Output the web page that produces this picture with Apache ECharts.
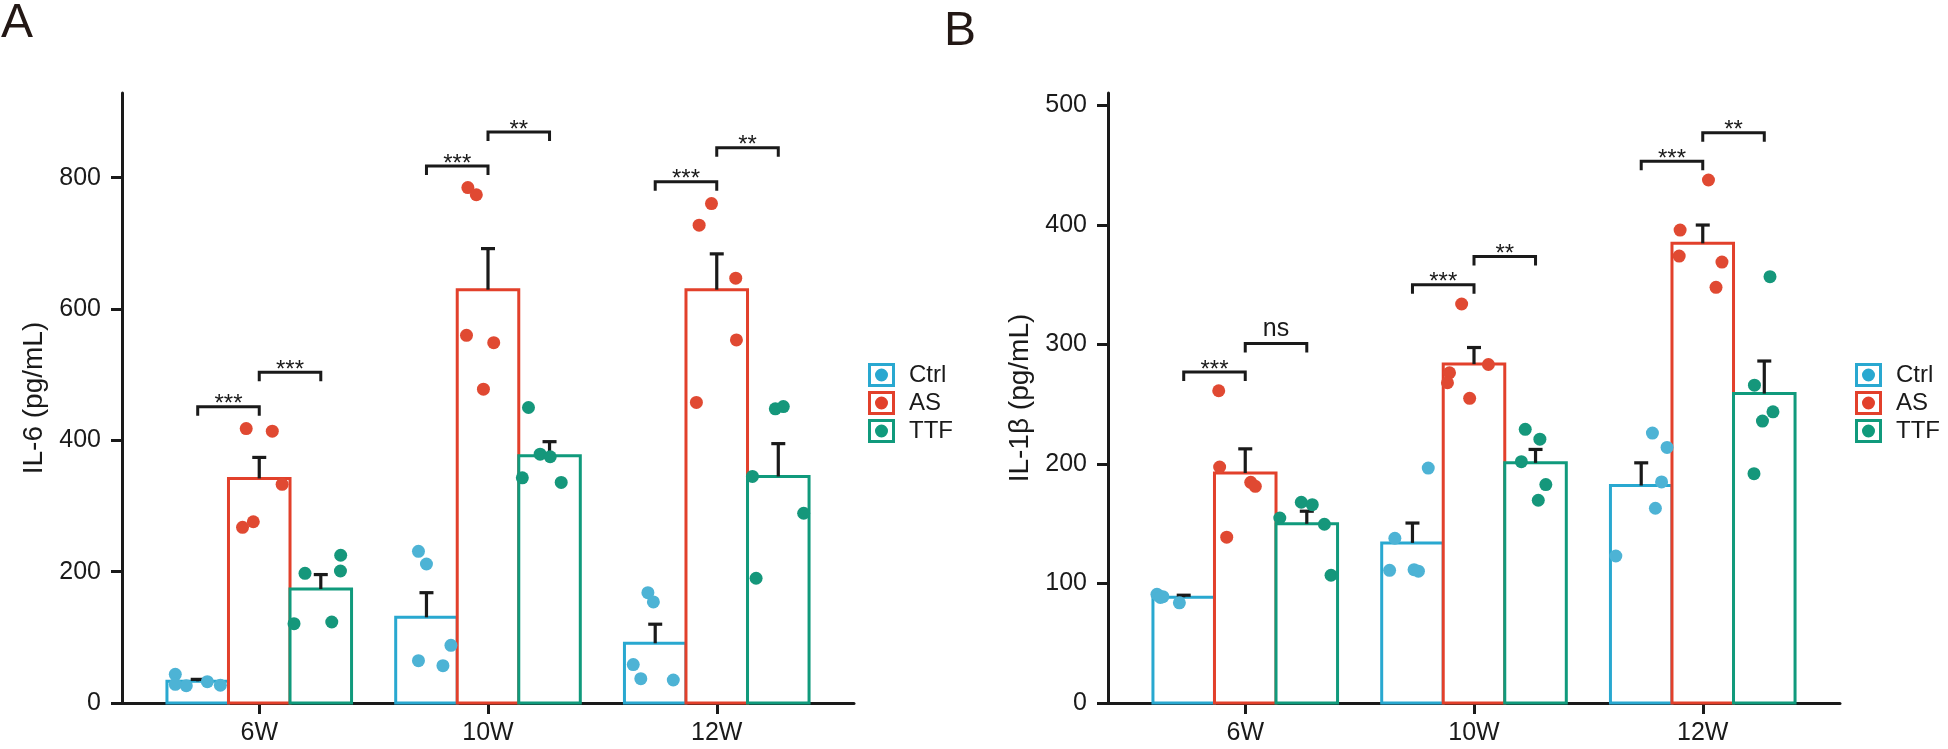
<!DOCTYPE html>
<html>
<head>
<meta charset="utf-8">
<script src="https://cdn.jsdelivr.net/npm/echarts@6/dist/echarts.min.js"></script>
<style>
html,body{margin:0;padding:0;background:#fff;}
#chart{width:1948px;height:749px;}
</style>
</head>
<body>
<div id="chart"></div>
<script>
// ---------- data ----------
const categories = ['6W', '10W', '12W'];
const groups = ['Ctrl', 'AS', 'TTF'];

// Panel A: IL-6 (pg/mL)
const il6Mean = { Ctrl: [33, 130.5, 91], AS: [342, 629.5, 629.5], TTF: [173.6, 376.7, 345] };
const il6Sem  = { Ctrl: [3, 37.5, 29],   AS: [32, 62.5, 54.5],     TTF: [22, 21.3, 50] };
const il6Points = {
  Ctrl: [[43.7, 28.5, 26.4, 32.5, 27], [231, 211.7, 64.5, 56.9, 87.8], [168, 154, 58.5, 37, 35]],
  AS:   [[418, 414, 333, 267.5, 276], [785, 774, 560, 548.7, 478], [760.6, 727.7, 647, 553, 457.8]],
  TTF:  [[225, 201, 197.5, 120.8, 123.4], [450, 379, 375, 343, 336], [448, 451.4, 345, 289, 190]]
};
const il6Sig = [['***', '***'], ['***', '**'], ['***', '**']];
const il6SigLevel = [[451, 503.6], [818, 869.6], [794, 845.6]];
const il6Ticks = [0, 200, 400, 600, 800];

// Panel B: IL-1β (pg/mL)
const il1bMean = { Ctrl: [88.5, 134, 182], AS: [192.5, 283.6, 384.7], TTF: [150, 201, 259] };
const il1bSem  = { Ctrl: [1.7, 16.6, 19],  AS: [20.2, 13.9, 15.3],    TTF: [10.5, 11.2, 27.2] };
const il1bPoints = {
  Ctrl: [[91, 90, 89, 88.3, 83.8], [196.6, 137.9, 111, 111.6, 110.3], [225.9, 213.9, 185, 163, 123]],
  AS:   [[261.3, 197.5, 184.7, 181.3, 138.8], [333.9, 283.3, 276.4, 268, 255], [437.7, 395.8, 374, 369, 347.9]],
  TTF:  [[168, 166, 154.8, 149.6, 106.9], [229, 220.8, 202, 182.8, 169.7], [356.8, 266, 243.7, 235.9, 191.9]]
};
const il1bSig = [['***', 'ns'], ['***', '**'], ['***', '**']];
const il1bSigLevel = [[277, 300.8], [350, 373.6], [453.3, 477.3]];
const il1bTicks = [0, 100, 200, 300, 400, 500];

// horizontal jitter of individual points within each group (axis units, relative to group centre)
const il6Jitter = {
  Ctrl: [[-0.367, -0.367, -0.319, -0.227, -0.170], [-0.304, -0.269, -0.304, -0.197, -0.162], [-0.301, -0.277, -0.365, -0.332, -0.190]],
  AS:   [[-0.057, 0.057, 0.100, -0.073, -0.026], [-0.088, -0.051, -0.094, 0.025, -0.020], [-0.023, -0.077, 0.083, 0.086, -0.089]],
  TTF:  [[0.356, 0.355, 0.200, 0.152, 0.317], [0.177, 0.228, 0.272, 0.150, 0.320], [0.256, 0.291, 0.156, 0.380, 0.172]]
};
const il1bJitter = {
  Ctrl: [[-0.386, -0.380, -0.360, -0.371, -0.288], [-0.200, -0.346, -0.369, -0.262, -0.243], [-0.220, -0.156, -0.180, -0.207, -0.380]],
  AS:   [[-0.116, -0.112, 0.024, 0.044, -0.081], [-0.054, 0.063, -0.107, -0.116, -0.019], [0.025, -0.099, -0.103, 0.084, 0.058]],
  TTF:  [[0.245, 0.293, 0.151, 0.346, 0.375], [0.224, 0.288, 0.207, 0.314, 0.281], [0.294, 0.226, 0.307, 0.261, 0.224]]
};

// ---------- styles ----------
const FONT = '"Liberation Sans", Arial, Helvetica, sans-serif';
const INK = '#1a1a1a';
const lineColor = { Ctrl: '#29A8D0', AS: '#E2402B', TTF: '#109A7C' };
const dotColor  = { Ctrl: '#4DB3D5', AS: '#E04932', TTF: '#15977B' };
const groupOffset = { Ctrl: -0.269, AS: 0, TTF: 0.269 };
const BAR_HALF = 0.1345;
const LEG = 9;

const legendIcon = 'path://M0,0 H27 V24 H0 Z M3,3 V21 H24 V3 Z M13.5,5.5 A6.5,6.5 0 1,1 13.5,18.5 A6.5,6.5 0 1,1 13.5,5.5 Z';

const chart = echarts.init(document.getElementById('chart'), null, { renderer: 'canvas' });

function barSeries(g, mean, gi) {
  return {
    name: g + ' bar', type: 'custom', xAxisIndex: gi, yAxisIndex: gi, z: 2,
    data: categories.map((c, i) => [i + 1, mean[g][i]]),
    renderItem: function (params, api) {
      const x = api.value(0) + groupOffset[g], v = api.value(1);
      const p0 = api.coord([x - BAR_HALF, v]);
      const p1 = api.coord([x + BAR_HALF, 0]);
      return {
        type: 'rect',
        shape: { x: p0[0], y: p0[1], width: p1[0] - p0[0], height: p1[1] - p0[1] },
        style: { fill: '#ffffff', stroke: lineColor[g], lineWidth: 3 }
      };
    }
  };
}

function errSeries(g, mean, sem, gi) {
  return {
    name: g + ' err', type: 'custom', xAxisIndex: gi, yAxisIndex: gi, z: 3,
    data: categories.map((c, i) => [i + 1, mean[g][i], sem[g][i]]),
    renderItem: function (params, api) {
      const x = api.value(0) + groupOffset[g], m = api.value(1), s = api.value(2);
      const b = api.coord([x, m]);
      const t = api.coord([x, m + s]);
      return {
        type: 'group',
        children: [
          { type: 'line', shape: { x1: b[0], y1: b[1], x2: t[0], y2: t[1] }, style: { stroke: INK, lineWidth: 3.2 } },
          { type: 'line', shape: { x1: t[0] - 7, y1: t[1], x2: t[0] + 7, y2: t[1] }, style: { stroke: INK, lineWidth: 3.2 } }
        ]
      };
    }
  };
}

function pointSeries(g, pts, jit, gi) {
  const data = [];
  pts[g].forEach((vals, i) => vals.forEach((v, j) => data.push([i + 1 + jit[g][i][j], v])));
  return {
    name: g, type: 'scatter', xAxisIndex: gi, yAxisIndex: gi, z: 4,
    symbol: 'circle', symbolSize: 13,
    itemStyle: { color: dotColor[g], opacity: 1 },
    data: data
  };
}

function sigSeries(sig, level, gi) {
  const data = [];
  categories.forEach((c, i) => {
    data.push([i + 1 + groupOffset.Ctrl, i + 1 + groupOffset.AS, level[i][0], i * 2]);
    data.push([i + 1 + groupOffset.AS, i + 1 + groupOffset.TTF, level[i][1], i * 2 + 1]);
  });
  return {
    name: 'sig', type: 'custom', xAxisIndex: gi, yAxisIndex: gi, z: 5,
    data: data,
    renderItem: function (params, api) {
      const x1 = api.value(0), x2 = api.value(1), y = api.value(2), k = api.value(3);
      const label = sig[Math.floor(k / 2)][k % 2];
      const a = api.coord([x1, y]), b = api.coord([x2, y]);
      const isStar = label.indexOf('*') >= 0;
      return {
        type: 'group',
        children: [
          { type: 'polyline', shape: { points: [[a[0], a[1] + LEG], [a[0], a[1]], [b[0], b[1]], [b[0], b[1] + LEG]] },
            style: { stroke: INK, lineWidth: 3, fill: null, lineJoin: 'miter' } },
          { type: 'text', x: (a[0] + b[0]) / 2, y: a[1] + (isStar ? -2 : -14),
            style: { text: label, fill: INK, fontSize: isStar ? 24 : 25, fontFamily: FONT, align: 'center', verticalAlign: 'middle' } }
        ]
      };
    }
  };
}

function xAxisCfg(gi) {
  return {
    gridIndex: gi, type: 'value', min: 0.4, max: 3.6,
    axisLine: { show: true, onZero: false, lineStyle: { color: INK, width: 3 } },
    axisTick: { show: true, customValues: [1, 2, 3], length: 11, lineStyle: { color: INK, width: 3 } },
    axisLabel: { customValues: [1, 2, 3], formatter: v => categories[Math.round(v) - 1] || '',
      fontSize: 25, fontFamily: FONT, color: INK, margin: 18 },
    splitLine: { show: false }
  };
}

function yAxisCfg(gi, max, ticks, name) {
  return {
    gridIndex: gi, type: 'value', min: 0, max: max,
    name: name, nameLocation: 'middle', nameGap: 74, nameRotate: 90,
    nameTextStyle: { fontSize: 28, fontFamily: FONT, color: INK },
    axisLine: { show: true, lineStyle: { color: INK, width: 3 } },
    axisTick: { show: true, customValues: ticks, length: 11, lineStyle: { color: INK, width: 3 } },
    axisLabel: { customValues: ticks, fontSize: 25, fontFamily: FONT, color: INK, margin: 21 },
    splitLine: { show: false }
  };
}

function legendCfg(left) {
  return {
    left: left, top: 363, orient: 'vertical', selectedMode: false,
    itemWidth: 27, itemHeight: 24, itemGap: 4, padding: 0,
    icon: legendIcon,
    data: groups.map(g => ({ name: g, icon: legendIcon, itemStyle: { color: lineColor[g] } })),
    textStyle: { fontSize: 24, fontFamily: FONT, color: INK, lineHeight: 24, padding: [0, 0, 0, 9] }
  };
}

const series = [];
[[il6Mean, il6Sem, il6Points, il6Jitter, il6Sig, il6SigLevel], [il1bMean, il1bSem, il1bPoints, il1bJitter, il1bSig, il1bSigLevel]]
  .forEach((p, gi) => {
    groups.forEach(g => series.push(barSeries(g, p[0], gi)));
    groups.forEach(g => series.push(errSeries(g, p[0], p[1], gi)));
    groups.forEach(g => series.push(pointSeries(g, p[2], p[3], gi)));
    series.push(sigSeries(p[4], p[5], gi));
  });

chart.setOption({
  animation: false,
  backgroundColor: '#ffffff',
  title: [
    { text: 'A', left: 1, top: 0, padding: 0, textStyle: { fontSize: 48, fontWeight: 'normal', fontFamily: FONT, color: '#231815' } },
    { text: 'B', left: 944, top: 8, padding: 0, textStyle: { fontSize: 48, fontWeight: 'normal', fontFamily: FONT, color: '#231815' } }
  ],
  grid: [
    { left: 122, top: 93, width: 732, height: 610 },
    { left: 1108, top: 93, width: 732, height: 610 }
  ],
  xAxis: [xAxisCfg(0), xAxisCfg(1)],
  yAxis: [yAxisCfg(0, 929, il6Ticks, 'IL-6 (pg/mL)'), yAxisCfg(1, 510.5, il1bTicks, 'IL-1β (pg/mL)')],
  legend: [legendCfg(868), legendCfg(1855)],
  series: series
});
</script>
</body>
</html>
